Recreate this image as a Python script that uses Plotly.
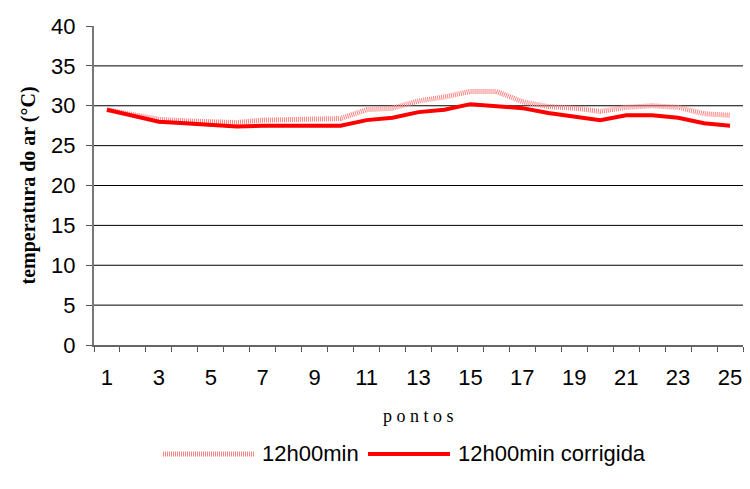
import plotly.graph_objects as go

pontos = list(range(1, 26))
temp_12h = [29.5, 28.9, 28.3, 28.1, 28.0, 27.9, 28.2, 28.3, 28.4, 28.4, 29.5, 29.7, 30.6, 31.1, 31.8,
            31.8, 30.5, 29.9, 29.7, 29.3, 29.8, 30.0, 29.8, 29.0, 28.8]
temp_12h_corr = [29.5, 28.8, 28.0, 27.8, 27.6, 27.4, 27.5, 27.5, 27.5, 27.5, 28.2, 28.5, 29.2, 29.5, 30.2,
                 30.0, 29.7, 29.1, 28.6, 28.2, 28.8, 28.8, 28.5, 27.8, 27.5]
series_names = ["12h00min", "12h00min corrigida"]
x_ticks = list(range(1, 26, 2))
y_ticks = list(range(0, 41, 5))
grid_vals = [5, 10, 15, 20, 25, 30, 35]

W, H = 750, 489
L, R, T, B = 94, 7, 26, 144
pw, ph = W - L - R, H - T - B

def px(xp):
    return (xp - L) / pw

def py(yp):
    return (H - B - yp) / ph

style_dot = dict(color="#ff8080", width=5, dash="1px,1px")
style_solid = dict(color="#ff0000", width=4)

fig = go.Figure()
fig.add_trace(go.Scatter(x=pontos, y=temp_12h, mode="lines", name=series_names[0],
                         line=style_dot, showlegend=False))
fig.add_trace(go.Scatter(x=pontos, y=temp_12h_corr, mode="lines", name=series_names[1],
                         line=style_solid, showlegend=False))

shapes = [dict(type="line", xref="paper", x0=0, x1=1, yref="y", y0=v, y1=v,
               line=dict(color="#000000", width=1), layer="below") for v in grid_vals]

# custom legend
leg_y = py(454)
shapes.append(dict(type="line", xref="paper", yref="paper", x0=px(163), x1=px(255), y0=leg_y, y1=leg_y,
                   line=style_dot))
shapes.append(dict(type="line", xref="paper", yref="paper", x0=px(368), x1=px(450), y0=leg_y, y1=leg_y,
                   line=style_solid))

tick_font = dict(family="Liberation Sans, Arial", size=22, color="#000")
leg_font = dict(family="Liberation Sans, Arial", size=22, color="#000")
annotations = [
    dict(text=series_names[0], xref="paper", yref="paper", x=px(260), y=leg_y, xanchor="left",
         yanchor="middle", showarrow=False, font=leg_font),
    dict(text=series_names[1], xref="paper", yref="paper", x=px(456), y=leg_y, xanchor="left",
         yanchor="middle", showarrow=False, font=leg_font),
    dict(text="p<span> </span>o<span> </span>n<span> </span>t<span> </span>o<span> </span>s",
         xref="paper", yref="paper", x=0.5, y=py(416), xanchor="center", yanchor="middle",
         showarrow=False,
         font=dict(family="Liberation Serif, Times New Roman", size=18, color="#000")),
    dict(text="<b>temperatura do ar (°C)</b>", xref="paper", yref="paper", x=px(28), y=0.5,
         xanchor="center", yanchor="middle", textangle=-90, showarrow=False,
         font=dict(family="Liberation Serif, Times New Roman", size=20, color="#000")),
]

fig.update_layout(
    width=W, height=H,
    margin=dict(l=L, r=R, t=T, b=B, autoexpand=False),
    plot_bgcolor="white", paper_bgcolor="white",
    shapes=shapes, annotations=annotations,
    showlegend=False,
    xaxis=dict(range=[0.5, 25.5], tickmode="array", tickvals=x_ticks,
               ticktext=[str(v) for v in x_ticks], ticks="", showgrid=False,
               showline=True, linecolor="#666", linewidth=1.5,
               tickfont=tick_font, ticklabelstandoff=12,
               minor=dict(tick0=0.5, dtick=1, ticks="outside", ticklen=5, tickcolor="#555",
                          showgrid=False),
               zeroline=False, automargin=False),
    yaxis=dict(range=[0, 40], tickmode="array", tickvals=y_ticks, ticks="outside",
               ticklen=6, tickcolor="#555", showgrid=False, zeroline=False,
               showline=True, linecolor="#777", linewidth=2,
               tickfont=tick_font, ticklabelstandoff=6, automargin=False),
)

fig.write_html("out.html", config={"displayModeBar": False},
               post_script="document.body.style.margin='0px';")
